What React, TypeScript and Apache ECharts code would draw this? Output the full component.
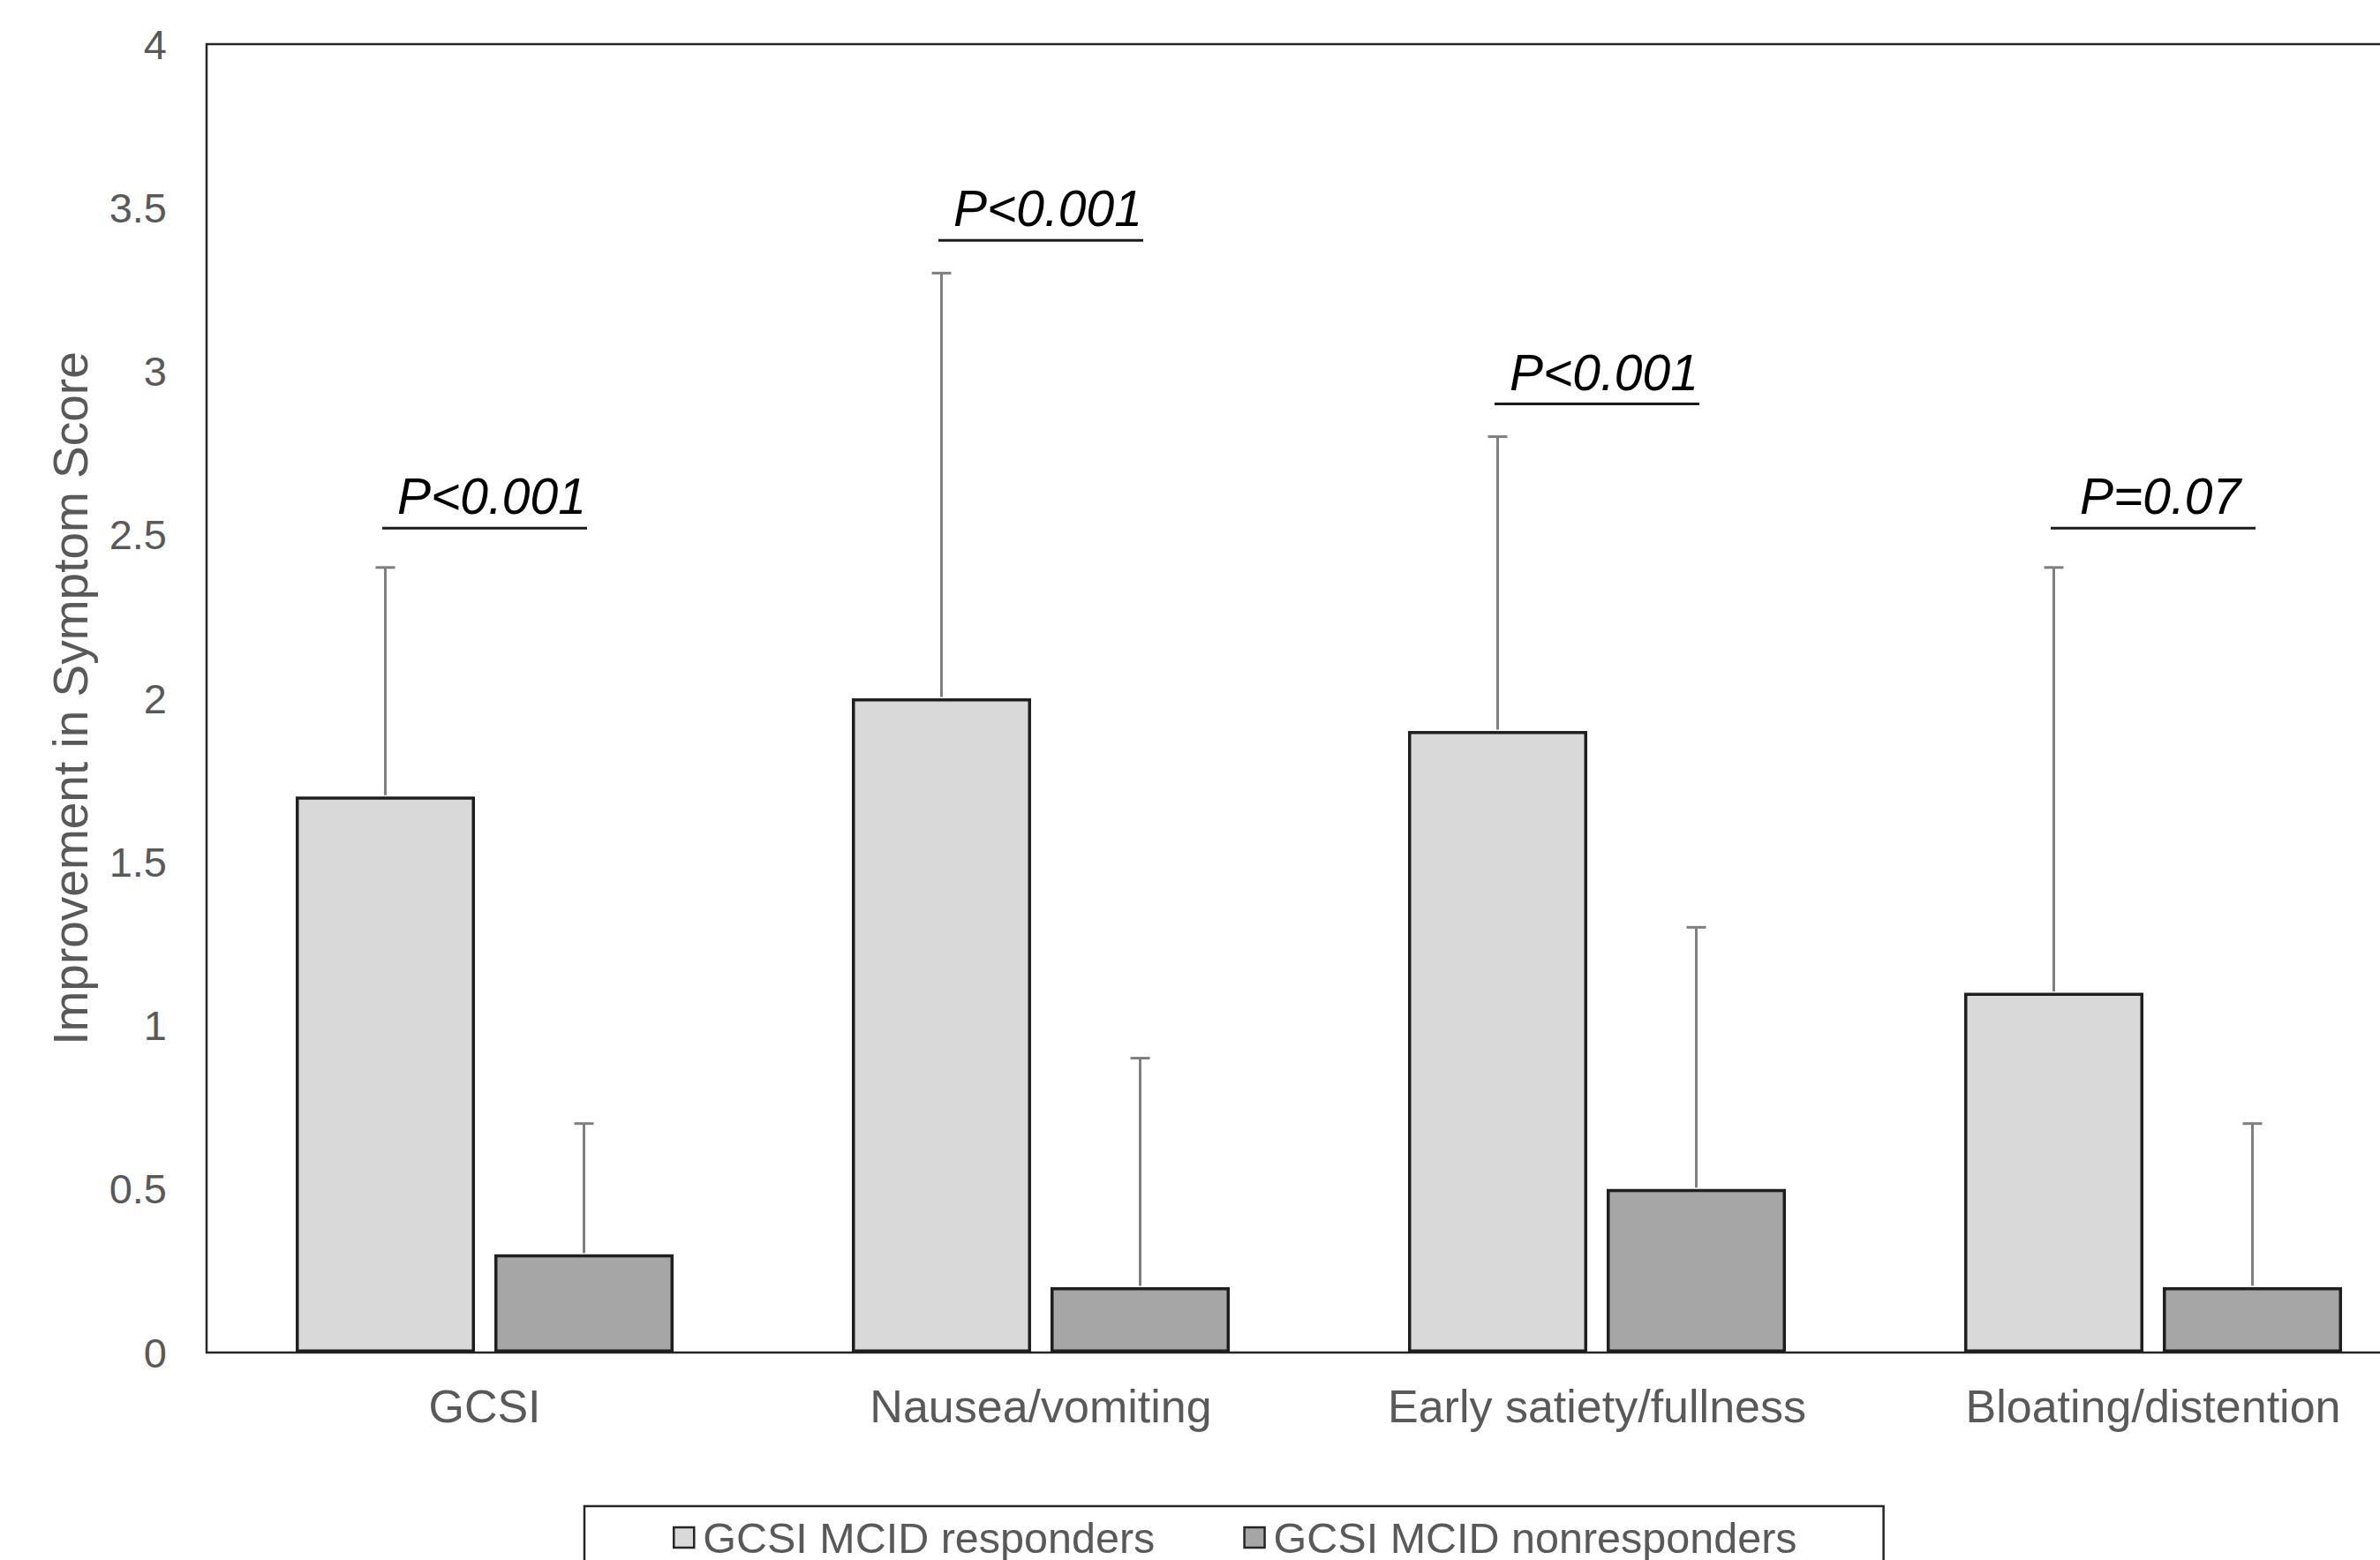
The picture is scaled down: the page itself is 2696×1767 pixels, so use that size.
import React, { useEffect, useRef } from "react";
import * as echarts from "echarts";

const categories = ["GCSI", "Nausea/vomiting", "Early satiety/fullness", "Bloating/distention"];
const seriesNames = ["GCSI MCID responders", "GCSI MCID nonresponders"];
const responderMeans = [1.7, 2.0, 1.9, 1.1];
const responderSD = [0.7, 1.3, 0.9, 1.3];
const nonresponderMeans = [0.3, 0.2, 0.5, 0.2];
const nonresponderSD = [0.4, 0.7, 0.8, 0.5];
const pLabels = ["P<0.001", "P<0.001", "P<0.001", "P=0.07"];
const pLineY = [2.52, 3.4, 2.9, 2.52];
const yMin = 0;
const yMax = 4;
const yInterval = 0.5;

const FONT = '"Liberation Sans", Arial, Helvetica, sans-serif';
const BAR_W = 203;
const BAR_GAP_PX = 22;
const BAR_OFFSET = (BAR_W + BAR_GAP_PX) / 2;

export default function App() {
  const ref = useRef<HTMLDivElement>(null);
  useEffect(() => {
    document.body.style.margin = "0";
    document.body.style.overflow = "hidden";
    if (!ref.current) return;
    const chart = echarts.init(ref.current, null, { renderer: "svg" });

    const errData: number[][] = [];
    responderMeans.forEach((m, i) => errData.push([i, m, responderSD[i], -1]));
    nonresponderMeans.forEach((m, i) => errData.push([i, m, nonresponderSD[i], 1]));

    const pData = pLineY.map((y, i) => [i, y]);

    const option: any = {
      animation: false,
      backgroundColor: "#ffffff",
      textStyle: { fontFamily: FONT },
      grid: {
        left: 234,
        top: 50,
        width: 2520,
        height: 1482,
        show: true,
        borderColor: "#262626",
        borderWidth: 2.5,
        backgroundColor: "transparent",
        containLabel: false,
        outerBoundsMode: "none",
      },
      legend: {
        data: seriesNames,
        left: 662,
        top: 1706,
        orient: "horizontal",
        padding: [11, 98, 40, 100],
        itemGap: 100,
        itemWidth: 23,
        itemHeight: 23,
        icon: "rect",
        selectedMode: false,
        borderColor: "#262626",
        borderWidth: 2.5,
        itemStyle: { borderColor: "#262626", borderWidth: 2.5 },
        textStyle: { color: "#595959", fontSize: 48.5, fontFamily: FONT, padding: [0, 0, 0, 5] },
      },
      xAxis: {
        type: "category",
        data: categories,
        axisLine: { show: false },
        axisTick: { show: false },
        splitLine: { show: false },
        axisLabel: { color: "#595959", fontSize: 52, fontFamily: FONT, margin: 35, interval: 0 },
      },
      yAxis: {
        type: "value",
        min: yMin,
        max: yMax,
        interval: yInterval,
        axisLine: { show: false },
        axisTick: { show: false },
        splitLine: { show: false },
        axisLabel: { color: "#595959", fontSize: 47, fontFamily: FONT, margin: 45 },
        name: "Improvement in Symptom Score",
        nameLocation: "middle",
        nameRotate: 90,
        nameGap: 127,
        nameTextStyle: { color: "#595959", fontSize: 55, fontFamily: FONT },
      },
      series: [
        {
          name: seriesNames[0],
          type: "bar",
          data: responderMeans,
          barWidth: BAR_W,
          barGap: (BAR_GAP_PX / BAR_W) * 100 + "%",
          itemStyle: { color: "#d9d9d9", borderColor: "#1f1f1f", borderWidth: 3.5 },
          z: 2,
        },
        {
          name: seriesNames[1],
          type: "bar",
          data: nonresponderMeans,
          barWidth: BAR_W,
          barGap: (BAR_GAP_PX / BAR_W) * 100 + "%",
          itemStyle: { color: "#a6a6a6", borderColor: "#1f1f1f", borderWidth: 3.5 },
          z: 2,
        },
        {
          name: "errors",
          type: "custom",
          data: errData,
          encode: { x: 0, y: 1 },
          z: 3,
          silent: true,
          renderItem: (params: any, api: any) => {
            const cat = api.value(0);
            const mean = api.value(1);
            const sd = api.value(2);
            const side = api.value(3);
            const base = api.coord([cat, mean]);
            const top = api.coord([cat, mean + sd]);
            const x = base[0] + side * BAR_OFFSET;
            const st = { stroke: "#7f7f7f", lineWidth: 3 };
            return {
              type: "group",
              children: [
                { type: "line", shape: { x1: x, y1: base[1] - 1.5, x2: x, y2: top[1] }, style: st },
                { type: "line", shape: { x1: x - 11, y1: top[1], x2: x + 11, y2: top[1] }, style: st },
              ],
            };
          },
        },
        {
          name: "pvalues",
          type: "custom",
          data: pData,
          encode: { x: 0, y: 1 },
          z: 4,
          silent: true,
          clip: false,
          renderItem: (params: any, api: any) => {
            const pt = api.coord([api.value(0), api.value(1)]);
            const label = pLabels[params.dataIndex];
            return {
              type: "group",
              children: [
                {
                  type: "line",
                  shape: { x1: pt[0] - 116, y1: pt[1], x2: pt[0] + 116, y2: pt[1] },
                  style: { stroke: "#1a1a1a", lineWidth: 3 },
                },
                {
                  type: "text",
                  x: pt[0] + 8,
                  y: pt[1] - 36,
                  style: {
                    text: label,
                    fontSize: 57,
                    fontStyle: "italic",
                    fontFamily: FONT,
                    fill: "#000000",
                    align: "center",
                    verticalAlign: "middle",
                  },
                },
              ],
            };
          },
        },
      ],
    };
    chart.setOption(option);
    return () => chart.dispose();
  }, []);
  return <div ref={ref} style={{ width: 2696, height: 1767 }} />;
}
